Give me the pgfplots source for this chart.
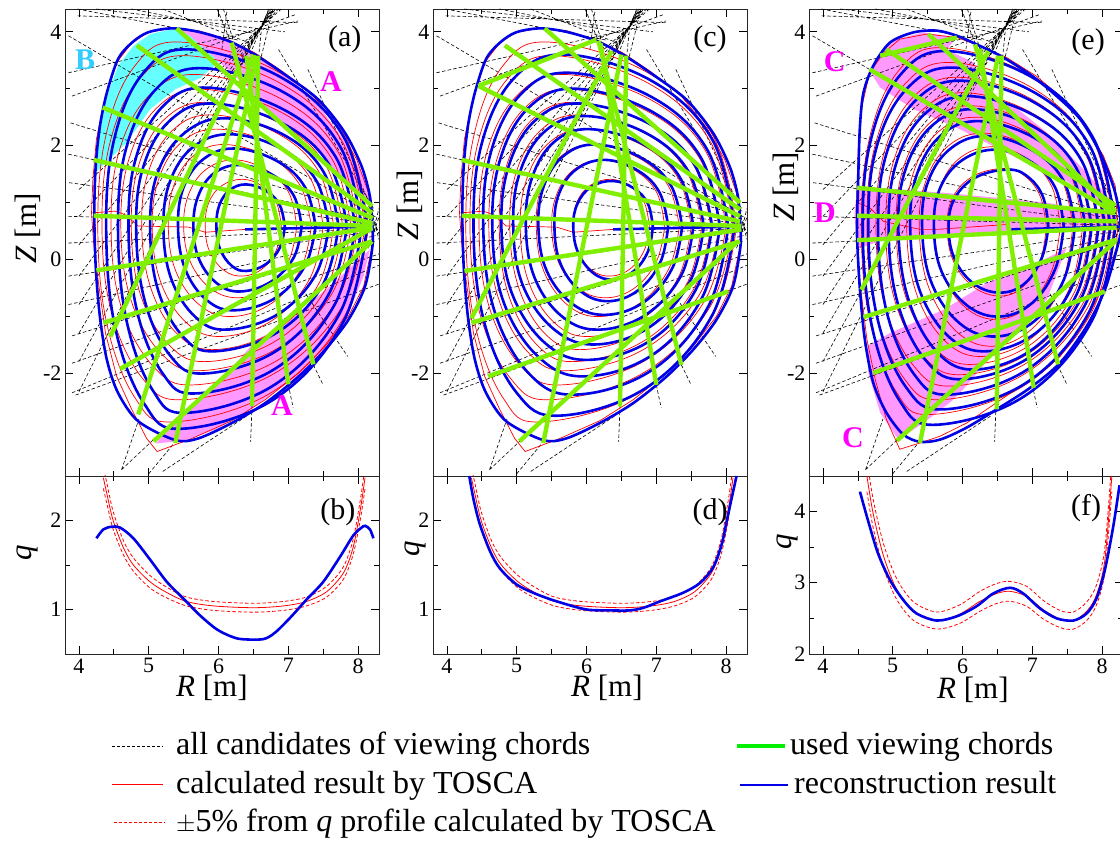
\documentclass[border=0pt]{standalone}
\usepackage{pgfplots}
\pgfplotsset{compat=1.18}
\usepackage{fontspec}
\setmainfont{Liberation Serif}
\definecolor{chord}{HTML}{80F000}
\definecolor{legg}{HTML}{00F000}
\definecolor{legr}{HTML}{FF0000}
\definecolor{bl}{HTML}{0000E6}
\definecolor{rd}{HTML}{FF0000}
\definecolor{mg}{HTML}{FF99FF}
\definecolor{cy}{HTML}{66FFFF}
\definecolor{lab}{HTML}{FF00FF}
\definecolor{labb}{HTML}{33CCFF}
\pgfplotsset{
 panel/.style={scale only axis,width=314pt,xmin=3.8,xmax=8.3,xtick={4,5,6,7,8},minor x tick num=1,
   tick align=inside,major tick length=8pt,minor tick length=5pt,
   tick style={black,line width=0.7pt},axis line style={line width=0.9pt,black!85},
   /pgf/number format/assume math mode=true,
   ticklabel style={font=\fontsize{22}{24}\selectfont},
   label style={font=\fontsize{31}{33}\selectfont},unbounded coords=jump,
   xlabel style={anchor=center},
   ylabel style={rotate=0,anchor=center}},
 top/.style={panel,height=467pt,ymin=-3.8,ymax=4.4,ytick={-2,0,2,4},minor y tick num=1,xticklabels={},ylabel={\textit{Z} [m]}},
 bot/.style={panel,height=178pt,minor y tick num=1,xlabel={\textit{R} [m]},ylabel={\textit{q}},xticklabel style={yshift=-1pt}},
 redc/.style={draw=rd,line width=0.7pt,smooth,tension=0.65},
 bluec/.style={draw=bl,line width=2.6pt,smooth,tension=0.65},
 grn/.style={draw=chord,line width=4.4pt},
 blk/.style={draw=black,line width=0.6pt,dash pattern=on 3.5pt off 2.2pt},
 qr/.style={draw=rd,line width=0.8pt,smooth},
 qd/.style={draw=rd,line width=0.8pt,smooth,dash pattern=on 3.5pt off 2.2pt},
 qb/.style={draw=bl,line width=2.6pt,smooth},
}
\newcommand{\plab}[1]{\fontsize{30}{32}\selectfont #1}
\newcommand{\clab}[2]{\textcolor{#1}{\fontsize{30}{32}\selectfont\bfseries #2}}
\newcommand{\dashes}{
\addplot[blk] coordinates {
(3.85,3.93)(8.25,.75)(nan,nan)(3.88,2.40)(8.25,.75)(nan,nan)(3.85,1.85)(8.25,.68)(nan,nan)
(3.86,1.35)(8.25,.62)(nan,nan)(3.85,.76)(8.25,.6)(nan,nan)(3.85,.29)(8.25,.55)(nan,nan)
(3.85,-.29)(8.25,.5)(nan,nan)(3.85,-.79)(8.25,.42)(nan,nan)(3.90,-1.34)(8.25,.32)(nan,nan)
(3.90,-1.82)(8.3,.1)(nan,nan)(3.90,-2.34)(8.3,-.1)(nan,nan)(3.95,-2.38)(8.3,-.43)(nan,nan)
(8.15,1.05)(8.3,.35)(nan,nan)(8.15,.95)(8.3,.45)(nan,nan)(8.18,.3)(8.3,.9)(nan,nan)(8.15,.2)(8.3,.75)(nan,nan)
(6.86,3.69)(8.22,.9)(nan,nan)(7.28,3.34)(8.22,.85)(nan,nan)
(4.0,1.23)(6.9,4.4)(nan,nan)(4.0,.76)(6.86,4.4)(nan,nan)(4.0,.26)(6.82,4.4)(nan,nan)(4.0,-.29)(6.8,4.4)(nan,nan)
(4.0,-.79)(6.78,4.4)(nan,nan)(4.0,-1.29)(6.76,4.4)(nan,nan)(4.0,-1.79)(6.75,4.4)(nan,nan)(4.0,-2.32)(6.73,4.4)(nan,nan)
(3.85,3.28)(7.14,4.19)(nan,nan)(3.9,2.87)(7.1,4.3)(nan,nan)(3.98,4.28)(7.15,4.16)(nan,nan)(4.25,4.4)(6.95,4.0)(nan,nan)
(3.98,4.4)(6.3,3.85)(nan,nan)(4.75,4.4)(6.6,3.95)(nan,nan)(5.2,4.4)(6.45,3.8)(nan,nan)
(5.98,4.4)(6.2,3.75)(nan,nan)(6.07,4.4)(6.25,3.7)(nan,nan)(6.12,4.35)(6.05,3.7)(nan,nan)(6.72,4.4)(6.45,3.6)(nan,nan)
(6.78,4.4)(6.6,3.5)(nan,nan)(6.62,4.1)(6.57,3.5)(nan,nan)
(4.61,-3.69)(5.06,-3.17)(nan,nan)(5.0,-3.76)(5.38,-3.2)(nan,nan)(5.20,-3.72)(6.4,-2.75)(nan,nan)
(6.48,-2.57)(6.46,-3.2)(nan,nan)(7.0,-2.2)(7.07,-2.6)(nan,nan)(7.36,-1.85)(7.5,-2.2)(nan,nan)
(7.25,-.6)(7.85,-1.7)(nan,nan)(4.61,-3.69)(4.86,-2.8)
};}
\newcommand{\redset}{
\addplot[redc] coordinates {(6.90,.58)(6.83,1.0)(6.64,1.28)(6.35,1.41)(6.05,1.30)(5.86,1.0)(5.81,.58)(5.87,.15)(6.08,-.19)(6.35,-.29)(6.63,-.16)(6.83,.17)(6.90,.58)};
\addplot[redc] coordinates {(7.12,.58)(7.01,1.17)(6.70,1.56)(6.25,1.75)(5.84,1.60)(5.58,1.17)(5.50,.58)(5.60,-.05)(5.90,-.52)(6.30,-.67)(6.71,-.48)(7.01,-.01)(7.12,.58)};
\addplot[redc] coordinates {(7.33,.58)(7.17,1.30)(6.74,1.79)(6.10,2.02)(5.65,1.83)(5.36,1.30)(5.28,.58)(5.39,-.21)(5.74,-.81)(6.20,-1.0)(6.77,-.76)(7.18,-.16)(7.33,.58)};
\addplot[redc] coordinates {(7.50,.58)(7.31,1.44)(6.78,2.02)(6.0,2.29)(5.48,2.07)(5.15,1.44)(5.05,.58)(5.17,-.39)(5.55,-1.12)(6.05,-1.35)(6.78,-1.06)(7.31,-.33)(7.50,.58)};
\addplot[redc] coordinates {(7.65,.58)(7.43,1.56)(6.82,2.23)(5.92,2.54)(5.36,2.29)(5.0,1.56)(4.90,.58)(5.03,-.50)(5.42,-1.32)(5.95,-1.58)(6.80,-1.26)(7.43,-.44)(7.65,.58)};
\addplot[redc] coordinates {(7.78,.58)(7.53,1.67)(6.85,2.41)(5.85,2.76)(5.24,2.48)(4.86,1.67)(4.75,.58)(4.88,-.61)(5.30,-1.51)(5.85,-1.79)(6.82,-1.43)(7.53,-.53)(7.78,.58)};
\addplot[redc] coordinates {(7.90,.58)(7.62,1.78)(6.88,2.60)(5.78,2.99)(5.13,2.68)(4.72,1.78)(4.60,.58)(4.74,-.69)(5.18,-1.65)(5.75,-1.95)(6.83,-1.57)(7.62,-.61)(7.90,.58)};
\addplot[redc] coordinates {(8.0,.58)(7.70,1.92)(6.90,2.82)(5.70,3.25)(5.02,2.90)(4.58,1.92)(4.46,.58)(4.60,-.81)(5.06,-1.87)(5.65,-2.2)(6.83,-1.78)(7.69,-.73)(8.0,.58)};
\addplot[redc] coordinates {(8.10,.58)(7.77,2.08)(6.88,3.10)(5.55,3.58)(4.88,3.19)(4.45,2.08)(4.33,.58)(4.47,-.94)(4.92,-2.10)(5.5,-2.46)(6.80,-2.0)(7.76,-.85)(8.10,.58)};
\addplot[redc] coordinates {(8.15,.58)(7.80,2.20)(6.85,3.30)(5.45,3.82)(4.80,3.40)(4.39,2.20)(4.27,.58)(4.40,-1.13)(4.81,-2.44)(5.35,-2.85)(6.75,-2.34)(7.79,-1.03)(8.15,.58)};
\addplot[draw=rd,line width=0.7pt] coordinates {(8.2,.59)(8.15,1.17)(7.98,1.76)(7.72,2.32)(7.34,2.90)(6.91,3.31)(6.52,3.63)(6.14,3.86)(5.71,4.02)(5.33,4.06)(4.99,3.99)(4.76,3.81)(4.54,3.46)(4.42,3.05)(4.33,2.58)(4.25,2.11)(4.20,1.41)(4.18,.82)(4.21,.29)(4.28,-.41)(4.38,-1.29)(4.54,-2.05)(4.76,-2.64)(4.97,-3.14)(5.12,-3.37)(5.62,-3.14)(6.19,-2.83)(6.67,-2.46)(7.15,-1.99)(7.53,-1.52)(7.86,-1.0)(8.08,-.47)(8.2,.23)(8.2,.59)};
\addplot[draw=rd,line width=0.7pt] coordinates {(4.19,.82)(4.52,.85)(4.66,.79)(4.85,.59)(5.57,.57)(5.81,.48)(6.38,.53)};
}
\newcommand{\boundary}{
\addplot[draw=bl,line width=2.6pt,smooth] coordinates {(8.206,.586)(8.17,1.11)(8.05,1.64)(7.81,2.23)(7.43,2.81)(6.95,3.25)(6.52,3.60)(6.14,3.84)(5.71,4.0)(5.33,4.06)(4.99,3.99)(4.76,3.81)(4.56,3.52)(4.40,2.93)(4.30,2.34)(4.24,1.64)(4.22,.82)(4.24,-.12)(4.30,-1.0)(4.40,-1.76)(4.56,-2.34)(4.85,-2.84)(5.38,-3.17)(5.71,-3.14)(6.19,-2.87)(6.67,-2.52)(7.15,-2.05)(7.53,-1.58)(7.86,-1.06)(8.10,-.47)(8.206,.23)(8.206,.586)};
\addplot[draw=bl,line width=2.6pt] coordinates {(6.38,.53)(8.2,.58)};
}
\newcommand{\qredset}{
\addplot[qd] coordinates {(4.35,2.60)(4.40,2.42)(4.49,2.10)(4.64,1.77)(4.78,1.58)(5.02,1.38)(5.26,1.25)(5.54,1.14)(5.93,1.09)(6.50,1.07)(6.93,1.09)(7.26,1.14)(7.55,1.26)(7.79,1.48)(7.93,1.79)(8.03,2.22)(8.10,2.60)};
\addplot[qd] coordinates {(4.35,2.36)(4.40,2.19)(4.49,1.90)(4.64,1.61)(4.78,1.43)(5.02,1.24)(5.26,1.13)(5.54,1.04)(5.93,.99)(6.50,.97)(6.93,.99)(7.26,1.04)(7.55,1.14)(7.79,1.34)(7.93,1.62)(8.03,2.0)(8.10,2.36)};
\addplot[qr] coordinates {(4.35,2.48)(4.40,2.30)(4.49,2.0)(4.64,1.69)(4.78,1.50)(5.02,1.31)(5.26,1.19)(5.54,1.09)(5.93,1.04)(6.50,1.02)(6.93,1.04)(7.26,1.09)(7.55,1.20)(7.79,1.41)(7.93,1.70)(8.03,2.11)(8.10,2.48)};
}
\begin{document}
\begin{tikzpicture}
\useasboundingbox (0,0) rectangle (1120pt,841pt);
\clip (0,0) rectangle (1120pt,841pt);
% ---------- (a)
\begin{axis}[top,at={(65pt,365pt)},anchor=south west,ylabel style={at={(axis description cs:-0.118,0.53)}}]
\addplot[fill=cy,draw=none] coordinates {(5.39,4.06)(5.02,3.96)(4.78,3.75)(4.56,3.40)(4.40,2.87)(4.30,2.40)(4.23,1.52)(4.68,2.05)(5.02,2.64)(5.38,2.99)(5.74,3.19)(6.02,3.49)(5.83,3.69)(5.59,3.93)} -- cycle;
\addplot[fill=mg,draw=none] coordinates {(5.40,4.06)(5.97,3.92)(6.55,3.60)(6.93,3.28)(7.41,2.75)(7.79,2.11)(8.08,1.47)(8.2,.94)(8.12,1.0)(7.31,2.05)(6.69,2.61)(6.45,2.99)(6.02,3.46)(5.59,3.93)} -- cycle;
\addplot[fill=mg,draw=none] coordinates {(5.1,-3.23)(5.50,-3.18)(5.97,-2.98)(6.45,-2.63)(6.93,-2.22)(7.41,-1.81)(7.79,-1.17)(8.08,-.29)(8.17,.18)(7.65,-.41)(7.31,-.76)(6.93,-1.17)(6.55,-1.40)(6.17,-1.93)(5.83,-2.34)(5.4,-2.81)} -- cycle;
\dashes
\redset
\addplot[bluec] coordinates {(6.95,.58)(6.88,.95)(6.69,1.20)(6.40,1.32)(6.16,1.22)(6.01,.95)(5.97,.58)(6.02,.19)(6.19,-.11)(6.40,-.20)(6.68,-.08)(6.88,.21)(6.95,.58)};
\addplot[bluec] coordinates {(7.19,.58)(7.08,1.12)(6.77,1.49)(6.31,1.66)(5.94,1.52)(5.71,1.12)(5.64,.58)(5.72,.01)(5.98,-.42)(6.31,-.56)(6.75,-.39)(7.08,.04)(7.19,.58)};
\addplot[bluec] coordinates {(7.39,.58)(7.24,1.27)(6.84,1.73)(6.24,1.95)(5.79,1.77)(5.50,1.27)(5.42,.58)(5.52,-.16)(5.83,-.71)(6.24,-.89)(6.82,-.67)(7.24,-.11)(7.39,.58)};
\addplot[bluec] coordinates {(7.58,.58)(7.40,1.39)(6.91,1.94)(6.19,2.20)(5.65,1.99)(5.31,1.39)(5.21,.58)(5.32,-.33)(5.67,-1.01)(6.12,-1.23)(6.85,-.96)(7.39,-.27)(7.58,.58)};
\addplot[bluec] coordinates {(7.72,.58)(7.51,1.53)(6.95,2.18)(6.12,2.48)(5.52,2.23)(5.13,1.53)(5.02,.58)(5.13,-.52)(5.49,-1.35)(5.95,-1.61)(6.84,-1.28)(7.49,-.45)(7.72,.58)};
\addplot[bluec] coordinates {(7.84,.58)(7.59,1.66)(6.92,2.39)(5.93,2.74)(5.32,2.46)(4.93,1.66)(4.82,.58)(4.94,-.71)(5.31,-1.69)(5.80,-2.0)(6.82,-1.61)(7.57,-.63)(7.84,.58)};
\addplot[bluec] coordinates {(7.96,.58)(7.68,1.80)(6.94,2.63)(5.83,3.02)(5.21,2.70)(4.82,1.80)(4.71,.58)(4.83,-.89)(5.20,-2.0)(5.68,-2.35)(6.82,-1.91)(7.66,-.80)(7.96,.58)};
\addplot[bluec] coordinates {(8.05,.58)(7.75,1.97)(6.96,2.92)(5.78,3.36)(5.11,3.0)(4.68,1.97)(4.56,.58)(4.68,-1.06)(5.06,-2.30)(5.55,-2.69)(6.80,-2.20)(7.73,-.96)(8.05,.58)};
\addplot[bluec] coordinates {(8.13,.58)(7.80,2.14)(6.91,3.19)(5.59,3.69)(4.93,3.29)(4.51,2.14)(4.39,.58)(4.52,-1.20)(4.94,-2.54)(5.48,-2.97)(6.81,-2.44)(7.79,-1.09)(8.13,.58)};
\boundary
\addplot[grn] coordinates {(5.40,4.06)(8.20,.94)(nan,nan)(4.83,3.76)(8.20,.82)(nan,nan)(4.34,2.67)(8.21,.73)(nan,nan)(4.21,1.75)(8.21,.64)(nan,nan)(4.21,.77)(8.21,.59)(nan,nan)(4.25,-.19)(8.21,.56)(nan,nan)(4.35,-1.11)(8.20,.32)(nan,nan)(4.59,-1.92)(8.2,.55)(nan,nan)(5.07,-3.19)(8.20,.32)(nan,nan)(6.57,3.58)(6.48,-2.57)(nan,nan)(6.40,3.58)(7.0,-2.19)(nan,nan)(6.19,3.81)(7.36,-1.84)(nan,nan)(6.55,3.58)(5.38,-3.22)(nan,nan)(6.50,3.60)(4.85,-2.72)(nan,nan)(6.30,3.40)(4.45,-1.35)};
\node at (axis cs:7.81,3.86) {\plab{(a)}};
\node at (axis cs:7.61,3.12) {\clab{lab}{A}};
\node at (axis cs:6.91,-2.56) {\clab{lab}{A}};
\node at (axis cs:4.09,3.51) {\clab{labb}{B}};
\end{axis}
% ---------- (b)
\begin{axis}[bot,at={(65pt,187pt)},anchor=south west,ymin=0.5,ymax=2.5,ytick={1,2},ylabel style={at={(axis description cs:-0.118,0.567)}},xlabel style={at={(axis description cs:0.468,-0.19)}}]
\qredset
\addplot[qb] coordinates {(4.25,1.80)(4.35,1.90)(4.47,1.93)(4.59,1.92)(4.78,1.80)(5.02,1.56)(5.26,1.31)(5.50,1.12)(5.74,.93)(5.97,.78)(6.17,.70)(6.33,.667)(6.64,.667)(6.81,.74)(7.03,.91)(7.26,1.11)(7.50,1.31)(7.74,1.59)(7.93,1.83)(8.05,1.92)(8.10,1.94)(8.17,1.90)(8.22,1.80)};
\node at (axis cs:7.71,2.09) {\plab{(b)}};
\end{axis}
% ---------- (c)
\begin{axis}[top,at={(433pt,365pt)},anchor=south west,ylabel style={at={(axis description cs:-0.075,0.58)}}]
\dashes
\redset
\addplot[bluec] coordinates {(6.95,.58)(6.88,.98)(6.68,1.25)(6.38,1.38)(6.07,1.28)(5.87,.98)(5.81,.58)(5.88,.12)(6.10,-.24)(6.38,-.35)(6.67,-.21)(6.88,.14)(6.95,.58)};
\addplot[bluec] coordinates {(7.17,.58)(7.05,1.17)(6.74,1.56)(6.28,1.75)(5.87,1.60)(5.61,1.17)(5.54,.58)(5.63,-.08)(5.93,-.57)(6.33,-.73)(6.75,-.53)(7.06,-.04)(7.17,.58)};
\addplot[bluec] coordinates {(7.37,.58)(7.21,1.30)(6.78,1.79)(6.14,2.02)(5.68,1.83)(5.39,1.30)(5.31,.58)(5.43,-.20)(5.80,-.78)(6.28,-.97)(6.83,-.74)(7.23,-.15)(7.37,.58)};
\addplot[bluec] coordinates {(7.53,.58)(7.34,1.44)(6.82,2.02)(6.05,2.29)(5.54,2.07)(5.22,1.44)(5.13,.58)(5.26,-.33)(5.66,-1.01)(6.19,-1.23)(6.86,-.96)(7.36,-.27)(7.53,.58)};
\addplot[bluec] coordinates {(7.68,.58)(7.46,1.55)(6.87,2.21)(6.0,2.52)(5.42,2.27)(5.05,1.55)(4.95,.58)(5.09,-.46)(5.55,-1.24)(6.14,-1.49)(6.91,-1.18)(7.48,-.39)(7.68,.58)};
\addplot[bluec] coordinates {(7.80,.58)(7.55,1.66)(6.89,2.39)(5.90,2.74)(5.28,2.46)(4.89,1.66)(4.78,.58)(4.93,-.59)(5.42,-1.48)(6.05,-1.76)(6.93,-1.41)(7.57,-.52)(7.80,.58)};
\addplot[bluec] coordinates {(7.91,.58)(7.64,1.79)(6.92,2.61)(5.85,3.0)(5.19,2.69)(4.77,1.79)(4.65,.58)(4.81,-.74)(5.33,-1.73)(6.0,-2.05)(6.96,-1.66)(7.66,-.66)(7.91,.58)};
\addplot[bluec] coordinates {(8.03,.58)(7.73,1.93)(6.94,2.85)(5.76,3.28)(5.08,2.93)(4.64,1.93)(4.52,.58)(4.68,-.90)(5.19,-2.02)(5.86,-2.37)(6.95,-1.93)(7.75,-.81)(8.03,.58)};
\addplot[bluec] coordinates {(8.12,.58)(7.81,2.09)(6.96,3.12)(5.71,3.60)(4.98,3.21)(4.51,2.09)(4.38,.58)(4.53,-1.08)(5.0,-2.34)(5.62,-2.74)(6.87,-2.24)(7.80,-.98)(8.12,.58)};
\boundary
\addplot[grn] coordinates {(5.4,4.06)(8.2,1.0)(nan,nan)(4.83,3.76)(8.2,.88)(nan,nan)(4.45,3.05)(8.2,.76)(nan,nan)(4.21,1.75)(8.2,.67)(nan,nan)(4.21,.77)(8.22,.59)(nan,nan)(4.25,-.2)(8.22,.53)(nan,nan)(4.35,-1.11)(8.2,.32)(nan,nan)(4.59,-2.05)(8.03,-.56)(nan,nan)(5.04,-3.19)(8.17,.32)(nan,nan)(4.45,3.05)(6.14,3.86)(nan,nan)(6.17,3.84)(7.36,-1.85)(nan,nan)(6.36,3.66)(4.35,-1.03)(nan,nan)(6.5,3.6)(5.38,-3.22)(nan,nan)(6.57,3.58)(6.48,-2.58)(nan,nan)(6.2,3.8)(7.0,-2.2)};
\node at (axis cs:7.77,3.86) {\plab{(c)}};
\end{axis}
% ---------- (d)
\begin{axis}[bot,at={(433pt,187pt)},anchor=south west,ymin=0.5,ymax=2.5,ytick={1,2},ylabel style={at={(axis description cs:-0.055,0.59)}},xlabel style={at={(axis description cs:0.554,-0.19)}}]
\qredset
\addplot[qb] coordinates {(4.32,2.5)(4.38,2.24)(4.47,1.96)(4.62,1.65)(4.76,1.46)(5.0,1.28)(5.29,1.17)(5.62,1.08)(6.0,1.0)(6.34,.99)(6.62,.99)(6.82,1.02)(7.05,1.09)(7.39,1.19)(7.63,1.30)(7.82,1.48)(7.94,1.74)(8.03,2.07)(8.15,2.5)};
\node at (axis cs:7.77,2.09) {\plab{(d)}};
\end{axis}
% ---------- (e)
\begin{axis}[top,at={(809pt,365pt)},anchor=south west,ylabel style={at={(axis description cs:-0.073,0.619)}}]
\addplot[fill=mg,draw=none] coordinates {(4.67,3.31)(4.82,3.63)(5.06,3.87)(5.44,3.99)(5.92,3.90)(5.77,3.69)(6.16,3.46)(6.35,2.93)(6.73,2.70)(7.21,2.23)(7.69,1.64)(8.16,1.0)(8.16,.85)(7.45,1.41)(6.82,1.76)(6.44,1.99)(5.96,2.29)(5.30,2.64)(4.82,3.02)} -- cycle;
\addplot[fill=mg,draw=none] coordinates {(4.49,1.29)(5.77,1.17)(7.21,1.0)(8.21,.76)(8.21,.53)(7.21,.53)(6.25,.44)(4.82,.32)(4.51,.2)(4.45,.76)} -- cycle;
\addplot[fill=mg,draw=none] coordinates {(4.64,-1.52)(4.96,-1.29)(5.73,-.88)(6.35,-.41)(6.92,-.15)(7.49,.2)(7.21,-.70)(6.92,-1.11)(6.49,-1.58)(6.01,-2.28)(5.82,-2.51)(5.44,-2.87)(5.08,-3.16)(4.82,-2.69)(4.65,-1.99)} -- cycle;
\dashes
\addplot[redc] coordinates {(7.20,.58)(7.12,1.09)(6.92,1.44)(6.62,1.60)(6.16,1.47)(5.86,1.09)(5.78,.58)(5.87,-.03)(6.17,-.49)(6.56,-.64)(6.88,-.46)(7.12,.01)(7.20,.58)};
\addplot[redc] coordinates {(7.40,.58)(7.28,1.28)(6.94,1.76)(6.45,1.98)(5.98,1.80)(5.68,1.28)(5.60,.58)(5.71,-.24)(6.05,-.85)(6.50,-1.05)(6.95,-.81)(7.28,-.19)(7.40,.58)};
\addplot[redc] coordinates {(7.58,.58)(7.42,1.40)(6.98,1.96)(6.33,2.22)(5.81,2.01)(5.48,1.40)(5.38,.58)(5.51,-.47)(5.92,-1.27)(6.45,-1.52)(7.01,-1.20)(7.43,-.41)(7.58,.58)};
\addplot[redc] coordinates {(7.72,.58)(7.53,1.54)(7.0,2.19)(6.22,2.50)(5.66,2.25)(5.30,1.54)(5.20,.58)(5.33,-.56)(5.75,-1.43)(6.30,-1.70)(7.01,-1.36)(7.54,-.49)(7.72,.58)};
\addplot[redc] coordinates {(7.83,.58)(7.61,1.64)(7.02,2.36)(6.15,2.70)(5.55,2.42)(5.16,1.64)(5.05,.58)(5.18,-.63)(5.60,-1.55)(6.15,-1.84)(6.99,-1.48)(7.61,-.56)(7.83,.58)};
\addplot[redc] coordinates {(7.93,.58)(7.69,1.76)(7.03,2.55)(6.05,2.93)(5.42,2.62)(5.02,1.76)(4.90,.58)(5.03,-.72)(5.45,-1.71)(6.0,-2.02)(6.97,-1.63)(7.68,-.64)(7.93,.58)};
\addplot[redc] coordinates {(8.02,.58)(7.75,1.89)(7.04,2.78)(5.97,3.20)(5.30,2.86)(4.88,1.89)(4.76,.58)(4.89,-.82)(5.31,-1.88)(5.85,-2.22)(6.94,-1.80)(7.74,-.74)(8.02,.58)};
\addplot[redc] coordinates {(8.10,.58)(7.81,2.02)(7.02,3.0)(5.85,3.46)(5.18,3.09)(4.75,2.02)(4.63,.58)(4.76,-.94)(5.17,-2.10)(5.7,-2.46)(6.90,-2.0)(7.79,-.85)(8.10,.58)};
\addplot[redc] coordinates {(8.17,.58)(7.85,2.15)(6.99,3.22)(5.72,3.72)(5.08,3.31)(4.67,2.15)(4.55,.58)(4.67,-1.07)(5.05,-2.32)(5.55,-2.72)(6.86,-2.23)(7.83,-.97)(8.17,.58)};
\addplot[draw=rd,line width=0.7pt] coordinates {(8.22,.59)(8.19,1.29)(8.02,1.82)(7.73,2.40)(7.45,2.81)(7.06,3.22)(6.63,3.55)(6.25,3.75)(5.92,3.90)(5.49,3.96)(5.10,3.87)(4.87,3.63)(4.67,3.28)(4.56,2.70)(4.51,2.11)(4.49,1.29)(4.48,.47)(4.53,-.41)(4.63,-1.40)(4.75,-2.11)(4.91,-2.81)(5.10,-3.33)(5.39,-3.22)(5.68,-3.10)(6.06,-2.87)(6.49,-2.51)(6.97,-2.11)(7.40,-1.70)(7.78,-1.05)(8.04,-.41)(8.21,.23)(8.22,.59)};
\addplot[draw=rd,line width=0.7pt] coordinates {(4.49,1.0)(4.67,.91)(4.87,.67)(5.39,.53)(5.63,.53)(6.68,.62)};
\addplot[bluec] coordinates {(7.23,.58)(7.16,1.08)(6.97,1.42)(6.68,1.58)(6.20,1.45)(5.89,1.08)(5.80,.58)(5.89,0)(6.18,-.44)(6.56,-.58)(6.90,-.41)(7.14,.04)(7.23,.58)};
\addplot[bluec] coordinates {(7.45,.58)(7.33,1.26)(6.99,1.71)(6.49,1.93)(6.0,1.75)(5.68,1.26)(5.59,.58)(5.70,-.21)(6.07,-.81)(6.54,-1.0)(7.0,-.76)(7.33,-.16)(7.45,.58)};
\addplot[bluec] coordinates {(7.61,.58)(7.45,1.38)(7.0,1.92)(6.35,2.17)(5.84,1.96)(5.51,1.38)(5.42,.58)(5.55,-.39)(5.96,-1.12)(6.49,-1.35)(7.05,-1.06)(7.46,-.33)(7.61,.58)};
\addplot[bluec] coordinates {(7.76,.58)(7.56,1.51)(7.04,2.13)(6.25,2.43)(5.70,2.19)(5.35,1.51)(5.25,.58)(5.38,-.52)(5.80,-1.35)(6.35,-1.61)(7.06,-1.28)(7.58,-.45)(7.76,.58)};
\addplot[bluec] coordinates {(7.85,.58)(7.63,1.61)(7.05,2.31)(6.18,2.64)(5.58,2.37)(5.19,1.61)(5.08,.58)(5.22,-.68)(5.64,-1.63)(6.20,-1.93)(7.03,-1.55)(7.64,-.60)(7.85,.58)};
\addplot[bluec] coordinates {(7.95,.58)(7.71,1.73)(7.07,2.50)(6.11,2.87)(5.47,2.57)(5.06,1.73)(4.94,.58)(5.07,-.76)(5.48,-1.78)(6.01,-2.10)(6.98,-1.70)(7.70,-.68)(7.95,.58)};
\addplot[bluec] coordinates {(8.04,.58)(7.78,1.86)(7.07,2.73)(6.01,3.14)(5.34,2.81)(4.91,1.86)(4.79,.58)(4.91,-.90)(5.31,-2.02)(5.82,-2.37)(6.93,-1.93)(7.75,-.81)(8.04,.58)};
\addplot[bluec] coordinates {(8.12,.58)(7.83,1.98)(7.05,2.92)(5.89,3.37)(5.21,3.01)(4.77,1.98)(4.65,.58)(4.78,-1.03)(5.19,-2.24)(5.73,-2.63)(6.93,-2.15)(7.81,-.93)(8.12,.58)};
\addplot[bluec] coordinates {(8.19,.58)(7.88,2.12)(7.04,3.17)(5.80,3.66)(5.12,3.26)(4.69,2.12)(4.57,.58)(4.70,-1.16)(5.10,-2.48)(5.63,-2.90)(6.91,-2.38)(7.86,-1.06)(8.19,.58)};
\addplot[draw=bl,line width=2.6pt,smooth] coordinates {(8.27,.47)(8.25,.82)(8.16,1.29)(7.97,1.88)(7.69,2.46)(7.35,2.87)(6.97,3.25)(6.54,3.58)(6.20,3.78)(5.92,3.93)(5.63,4.02)(5.30,3.99)(4.96,3.81)(4.72,3.40)(4.58,2.93)(4.53,2.34)(4.51,1.64)(4.49,.77)(4.49,.35)(4.53,-.53)(4.60,-1.40)(4.72,-2.16)(4.91,-2.69)(5.15,-3.07)(5.39,-3.20)(5.68,-3.16)(6.06,-2.95)(6.49,-2.63)(6.97,-2.25)(7.40,-1.81)(7.78,-1.17)(8.04,-.53)(8.21,.18)(8.27,.47)};
\addplot[draw=bl,line width=2.6pt] coordinates {(6.7,.53)(8.25,.58)};
\addplot[grn] coordinates {(5.51,3.96)(8.19,.85)(nan,nan)(4.91,3.69)(8.19,.95)(nan,nan)(4.67,3.34)(8.19,.82)(nan,nan)(4.49,1.26)(8.19,.82)(nan,nan)(4.49,.77)(8.21,.67)(nan,nan)(4.49,.34)(8.21,.56)(nan,nan)(4.58,-1.01)(8.21,.35)(nan,nan)(4.72,-1.99)(8.04,-.56)(nan,nan)(5.06,-3.18)(8.19,.32)(nan,nan)(4.82,3.58)(5.92,3.9)(nan,nan)(6.18,3.78)(7.37,-1.84)(nan,nan)(6.37,3.66)(4.55,-.53)(nan,nan)(6.51,3.58)(5.39,-3.22)(nan,nan)(6.56,3.58)(6.49,-2.63)(nan,nan)(6.25,3.7)(7.02,-2.25)};
\node at (axis cs:7.8,3.82) {\plab{(e)}};
\node at (axis cs:4.17,3.47) {\clab{lab}{C}};
\node at (axis cs:4.03,.82) {\clab{lab}{D}};
\node at (axis cs:4.43,-3.12) {\clab{lab}{C}};
\end{axis}
% ---------- (f)
\begin{axis}[bot,at={(809pt,187pt)},anchor=south west,ymin=2,ymax=4.5,ytick={2,3,4},ylabel style={at={(axis description cs:-0.067,0.63)}},xlabel style={at={(axis description cs:0.522,-0.2)}}]
\addplot[qd] coordinates {(4.63,4.73)(4.72,4.17)(4.87,3.54)(5.06,3.05)(5.30,2.73)(5.63,2.59)(5.96,2.69)(6.25,2.88)(6.49,2.99)(6.68,3.02)(6.92,2.95)(7.16,2.75)(7.40,2.61)(7.59,2.59)(7.78,2.73)(7.92,2.97)(8.04,3.49)(8.14,4.73)};
\addplot[qd] coordinates {(4.63,4.28)(4.72,3.77)(4.87,3.20)(5.06,2.76)(5.30,2.47)(5.63,2.35)(5.96,2.43)(6.25,2.60)(6.49,2.71)(6.68,2.74)(6.92,2.67)(7.16,2.49)(7.40,2.37)(7.59,2.35)(7.78,2.47)(7.92,2.69)(8.04,3.15)(8.14,4.28)};
\addplot[qr] coordinates {(4.63,4.5)(4.72,3.97)(4.87,3.37)(5.06,2.90)(5.30,2.60)(5.63,2.47)(5.96,2.56)(6.25,2.74)(6.49,2.85)(6.68,2.88)(6.92,2.81)(7.16,2.62)(7.40,2.49)(7.59,2.47)(7.78,2.60)(7.92,2.83)(8.04,3.32)(8.14,4.5)};
\addplot[qb] coordinates {(4.53,4.28)(4.65,3.86)(4.79,3.41)(4.96,3.04)(5.15,2.76)(5.34,2.57)(5.63,2.47)(5.92,2.53)(6.2,2.67)(6.44,2.85)(6.68,2.93)(6.87,2.85)(7.11,2.64)(7.35,2.50)(7.59,2.47)(7.78,2.57)(7.92,2.78)(8.04,3.18)(8.16,3.79)(8.25,4.37)};
\node at (axis cs:7.77,4.05) {\plab{(f)}};
\end{axis}
% ---------- legend
\draw[draw=black,line width=0.7pt,dash pattern=on 3pt off 2pt] (112pt,95pt)--(163pt,95pt);
\begin{scope}[color=legr]
\draw[draw=legr,line width=1pt] (112pt,56pt)--(163pt,56pt);
\draw[draw=legr,line width=1pt,dash pattern=on 3pt off 2pt] (114pt,18pt)--(165pt,18pt);
\end{scope}
\draw[draw=legg,line width=4.5pt] (737pt,95pt)--(785pt,95pt);
\draw[draw=bl,line width=2.6pt] (740pt,56pt)--(788pt,56pt);
\begin{scope}[every node/.style={anchor=base west,inner sep=0pt,font=\fontsize{32}{33}\selectfont}]
\node at (176pt,86pt) {all candidates of viewing chords};
\node at (176pt,47pt) {calculated result by TOSCA};
\node at (176pt,9pt) {$\pm$5\% from \textit{q} profile calculated by TOSCA};
\node at (790pt,86pt) {used viewing chords};
\node at (794pt,47pt) {reconstruction result};
\end{scope}
\end{tikzpicture}
\end{document}
